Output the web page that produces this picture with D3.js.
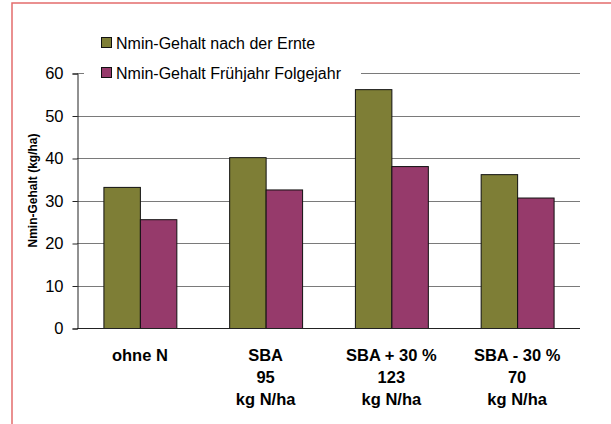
<!DOCTYPE html>
<html lang="de">
<head>
  <meta charset="UTF-8">
  <title>Nmin-Gehalt</title>
  <script src="https://d3js.org/d3.v7.min.js"></script>
  <style>
    body { margin: 0; background: #fff; }
    text { font-family: Arial, "Liberation Sans", sans-serif; }
  </style>
</head>
<body>
  <svg width="611" height="424"></svg>
  <script>
  // data
  var categories = [
    ["ohne N"],
    ["SBA", "95", "kg N/ha"],
    ["SBA + 30 %", "123", "kg N/ha"],
    ["SBA - 30 %", "70", "kg N/ha"]
  ];
  var seriesNames = ["Nmin-Gehalt nach der Ernte", "Nmin-Gehalt Frühjahr Folgejahr"];
  var nachErnte = [33.2, 40.2, 56.2, 36.2];
  var fruehjahr = [25.6, 32.6, 38.1, 30.7];
  var yTicks = [0, 10, 20, 30, 40, 50, 60];
  var colors = ["#7e7e36", "#963a6b"];

  var svg = d3.select("svg");

  // red frame round the chart
  svg.append("rect")
      .attr("x", 12).attr("y", 3)
      .attr("width", 640).attr("height", 460)
      .attr("fill", "none")
      .attr("stroke", "#e36c6c")
      .attr("stroke-width", 1.5);

  var pLeft = 77, pRight = 580, pTop = 73, pBottom = 328;

  var x = d3.scaleBand()
      .domain(d3.range(categories.length))
      .range([pLeft, pRight])
      .paddingInner(0.42)
      .paddingOuter(0.21);
  var xs = d3.scaleBand()
      .domain(d3.range(seriesNames.length))
      .range([0, x.bandwidth()]);
  var y = d3.scaleLinear().domain([0, 60]).range([pBottom, pTop]);

  // gridlines
  svg.append("g")
    .selectAll("line")
    .data(yTicks.filter(function(d) { return d > 0; }))
    .enter().append("line")
      .attr("x1", pLeft).attr("x2", pRight)
      .attr("y1", function(d) { return Math.round(y(d)) + 0.5; })
      .attr("y2", function(d) { return Math.round(y(d)) + 0.5; })
      .attr("stroke", "#7a7a7a")
      .attr("stroke-width", 1);

  // y axis
  var yAxis = svg.append("g")
      .attr("transform", "translate(" + (pLeft + 0.5) + ",0.5)")
      .call(d3.axisLeft(y).tickValues(yTicks).tickSize(5).tickPadding(9));
  yAxis.select(".domain").attr("stroke", "#222");
  yAxis.selectAll(".tick line").attr("stroke", "#222");
  yAxis.selectAll(".tick text")
      .attr("font-size", 16.5)
      .attr("fill", "#000")
      .style("font-family", "Arial, 'Liberation Sans', sans-serif");

  svg.append("text")
      .attr("transform", "translate(37," + ((pTop + pBottom) / 2 - 10) + ") rotate(-90)")
      .attr("text-anchor", "middle")
      .attr("font-size", 12)
      .attr("font-weight", "bold")
      .text("Nmin-Gehalt (kg/ha)");

  // bars
  var rows = categories.map(function(c, i) { return [nachErnte[i], fruehjahr[i]]; });
  svg.append("g")
    .selectAll("g")
    .data(rows)
    .enter().append("g")
      .attr("transform", function(d, i) { return "translate(" + x(i) + ",0)"; })
    .selectAll("rect")
    .data(function(d) { return d; })
    .enter().append("rect")
      .attr("x", function(d, j) { return xs(j) + 0.5; })
      .attr("y", function(d) { return y(d) + 0.5; })
      .attr("width", xs.bandwidth())
      .attr("height", function(d) { return pBottom - y(d); })
      .attr("fill", function(d, j) { return colors[j]; })
      .attr("stroke", "#111")
      .attr("stroke-width", 1);

  // x axis line
  svg.append("line")
      .attr("x1", pLeft).attr("x2", pRight)
      .attr("y1", pBottom + 0.5).attr("y2", pBottom + 0.5)
      .attr("stroke", "#222");

  // category labels
  var lab = svg.append("g").selectAll("text")
    .data(categories)
    .enter().append("text")
      .attr("text-anchor", "middle")
      .attr("font-size", 16.5)
      .attr("font-weight", "bold")
      .attr("y", 361);
  lab.selectAll("tspan")
    .data(function(d, i) { return d.map(function(s) { return {s: s, i: i}; }); })
    .enter().append("tspan")
      .attr("x", function(d) { return x(d.i) + x.bandwidth() / 2; })
      .attr("dy", function(d, k) { return k ? 22 : 0; })
      .text(function(d) { return d.s; });

  // legend
  var legend = svg.append("g");
  legend.append("rect")
      .attr("x", 84).attr("y", 28)
      .attr("width", 277).attr("height", 56)
      .attr("fill", "#fff");
  var item = legend.selectAll("g")
    .data(seriesNames)
    .enter().append("g")
      .attr("transform", function(d, i) { return "translate(101," + (43 + i * 30) + ")"; });
  item.append("rect")
      .attr("x", 0.5).attr("y", -5.5)
      .attr("width", 10).attr("height", 10)
      .attr("fill", function(d, i) { return colors[i]; })
      .attr("stroke", "#111");
  item.append("text")
      .attr("x", 15)
      .attr("y", 5.5)
      .attr("font-size", 16)
      .text(function(d) { return d; });
  </script>
</body>
</html>
